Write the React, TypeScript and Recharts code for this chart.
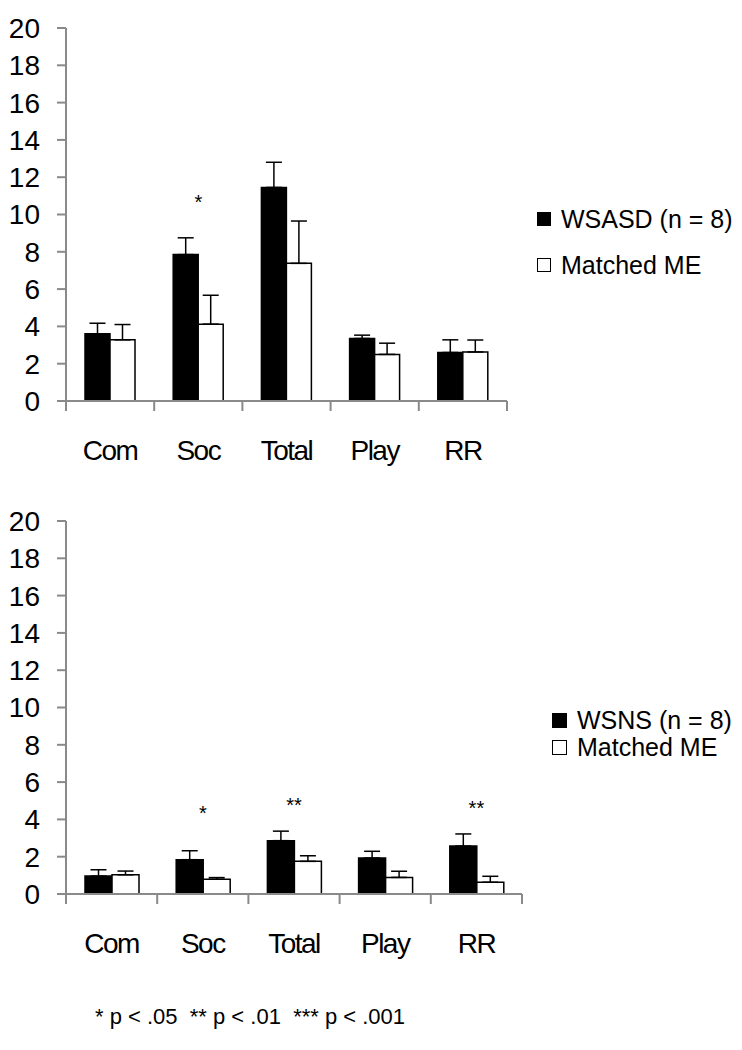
import React from 'react';
import { BarChart, Bar, XAxis, YAxis, ErrorBar, ReferenceDot, Legend } from 'recharts';

const categories = ['Com', 'Soc', 'Total', 'Play', 'RR'];
const yTicks = [0, 2, 4, 6, 8, 10, 12, 14, 16, 18, 20];

// top panel: WSASD vs matched ME
const wsasdMeans = [3.6, 7.85, 11.45, 3.35, 2.6];
const wsasdSE = [0.57, 0.9, 1.35, 0.18, 0.68];
const asdMatchedMeans = [3.28, 4.12, 7.38, 2.5, 2.63];
const asdMatchedSE = [0.82, 1.55, 2.27, 0.6, 0.64];
const asdSig = [{ cat: 'Soc', mark: '*', y: 10.65 }];

// bottom panel: WSNS vs matched ME
const wsnsMeans = [0.96, 1.84, 2.86, 1.93, 2.57];
const wsnsSE = [0.34, 0.48, 0.51, 0.36, 0.65];
const nsMatchedMeans = [1.03, 0.79, 1.75, 0.89, 0.63];
const nsMatchedSE = [0.2, 0.09, 0.3, 0.33, 0.32];
const nsSig = [
  { cat: 'Soc', mark: '*', y: 4.35 },
  { cat: 'Total', mark: '**', y: 4.8 },
  { cat: 'RR', mark: '**', y: 4.6 },
];

const FONT = '"Liberation Sans", Arial, sans-serif';
const AXIS_GRAY = '#8a8a8a';

const buildRows = (a: number[], aErr: number[], b: number[], bErr: number[]) =>
  categories.map((name, i) => ({
    name,
    group: a[i],
    groupErr: [0, aErr[i]],
    matched: b[i],
    matchedErr: [0, bErr[i]],
  }));

const topData = buildRows(wsasdMeans, wsasdSE, asdMatchedMeans, asdMatchedSE);
const bottomData = buildRows(wsnsMeans, wsnsSE, nsMatchedMeans, nsMatchedSE);

// category label plus the small tick marks that sit between categories
const CategoryTick = (props: any) => {
  const { x, y, payload, index, visibleTicksCount, band } = props;
  const half = payload?.offset || band / 2;
  return (
    <g>
      <line x1={x - half} x2={x - half} y1={y} y2={y + 10} stroke={AXIS_GRAY} strokeWidth={2} />
      {index === visibleTicksCount - 1 && (
        <line x1={x + half} x2={x + half} y1={y} y2={y + 10} stroke={AXIS_GRAY} strokeWidth={2} />
      )}
      <text x={x} y={y + 39} dy="0.71em" textAnchor="middle" fontSize={28} letterSpacing={-1.5} fill="#000">
        {payload.value}
      </text>
    </g>
  );
};

interface LegendBoxProps {
  labels: string[];
  rowHeight: number;
  square: number;
}

const LegendBox = ({ labels, rowHeight, square }: LegendBoxProps) => (
  <div style={{ fontFamily: FONT, fontSize: 25, color: '#000' }}>
    {labels.map((label, i) => (
      <div key={label} style={{ display: 'flex', alignItems: 'center', height: rowHeight, whiteSpace: 'nowrap' }}>
        <div
          style={{
            width: square,
            height: square,
            boxSizing: 'border-box',
            border: '1px solid #000',
            background: i === 0 ? '#000' : '#fff',
            marginRight: 10,
          }}
        />
        <span style={{ lineHeight: `${rowHeight}px` }}>{label}</span>
      </div>
    ))}
  </div>
);

interface PanelProps {
  data: ReturnType<typeof buildRows>;
  sig: { cat: string; mark: string; y: number }[];
  labels: string[];
  top: number;
  height: number;
  marginTop: number;
  marginRight: number;
  barSize: number;
  legendLeft: number;
  legendTop: number;
  legendRow: number;
  legendSquare: number;
}

const Panel = (p: PanelProps) => {
  const band = (742 - 66 - p.marginRight) / categories.length;
  return (
    <div style={{ position: 'absolute', left: 0, top: p.top }}>
      <BarChart
        width={742}
        height={p.height}
        data={p.data}
        margin={{ top: p.marginTop, right: p.marginRight, bottom: 0, left: 0 }}
        barGap={0}
        barSize={p.barSize}
      >
        <XAxis
          dataKey="name"
          height={71}
          axisLine={{ stroke: AXIS_GRAY, strokeWidth: 2 }}
          tickLine={false}
          tickSize={0}
          tickMargin={0}
          interval={0}
          tick={(t: any) => <CategoryTick {...t} band={band} />}
        />
        <YAxis
          domain={[0, 20]}
          ticks={yTicks}
          interval={0}
          width={66}
          tickSize={9}
          tickMargin={17}
          axisLine={{ stroke: AXIS_GRAY, strokeWidth: 2 }}
          tickLine={{ stroke: AXIS_GRAY, strokeWidth: 2 }}
          tick={{ fill: '#000', fontSize: 28 }}
        />
        <Legend
          layout="vertical"
          align="center"
          verticalAlign="middle"
          wrapperStyle={{ left: p.legendLeft, top: p.legendTop, width: 200, height: 'auto' }}
          content={() => <LegendBox labels={p.labels} rowHeight={p.legendRow} square={p.legendSquare} />}
        />
        <Bar dataKey="group" name={p.labels[0]} fill="#000" stroke="#000" strokeWidth={1.5} isAnimationActive={false}>
          <ErrorBar dataKey="groupErr" direction="y" width={8} stroke="#000" strokeWidth={1.5} isAnimationActive={false} />
        </Bar>
        <Bar dataKey="matched" name={p.labels[1]} fill="#fff" stroke="#000" strokeWidth={1.5} isAnimationActive={false}>
          <ErrorBar dataKey="matchedErr" direction="y" width={8} stroke="#000" strokeWidth={1.5} isAnimationActive={false} />
        </Bar>
        {p.sig.map((s) => (
          <ReferenceDot
            key={s.cat}
            x={s.cat}
            y={s.y}
            r={0}
            fill="none"
            stroke="none"
            label={{ value: s.mark, position: 'center', fontSize: 20, fill: '#000' }}
          />
        ))}
      </BarChart>
    </div>
  );
};

export default function App() {
  return (
    <div style={{ position: 'absolute', left: 0, top: 0, width: 742, height: 1050, background: '#fff', fontFamily: FONT }}>
      <Panel
        data={topData}
        sig={asdSig}
        labels={['WSASD (n = 8)', 'Matched ME']}
        top={0}
        height={472}
        marginTop={28}
        marginRight={235}
        barSize={25}
        legendLeft={537}
        legendTop={196}
        legendRow={46}
        legendSquare={14}
      />
      <Panel
        data={bottomData}
        sig={nsSig}
        labels={['WSNS (n = 8)', 'Matched ME']}
        top={500}
        height={465}
        marginTop={21}
        marginRight={220}
        barSize={27}
        legendLeft={552}
        legendTop={207}
        legendRow={27}
        legendSquare={15}
      />
      <div style={{ position: 'absolute', left: 95, top: 1005, fontSize: 22, lineHeight: '24px', whiteSpace: 'pre', color: '#000' }}>
        {'* p < .05  ** p < .01  *** p < .001'}
      </div>
    </div>
  );
}
